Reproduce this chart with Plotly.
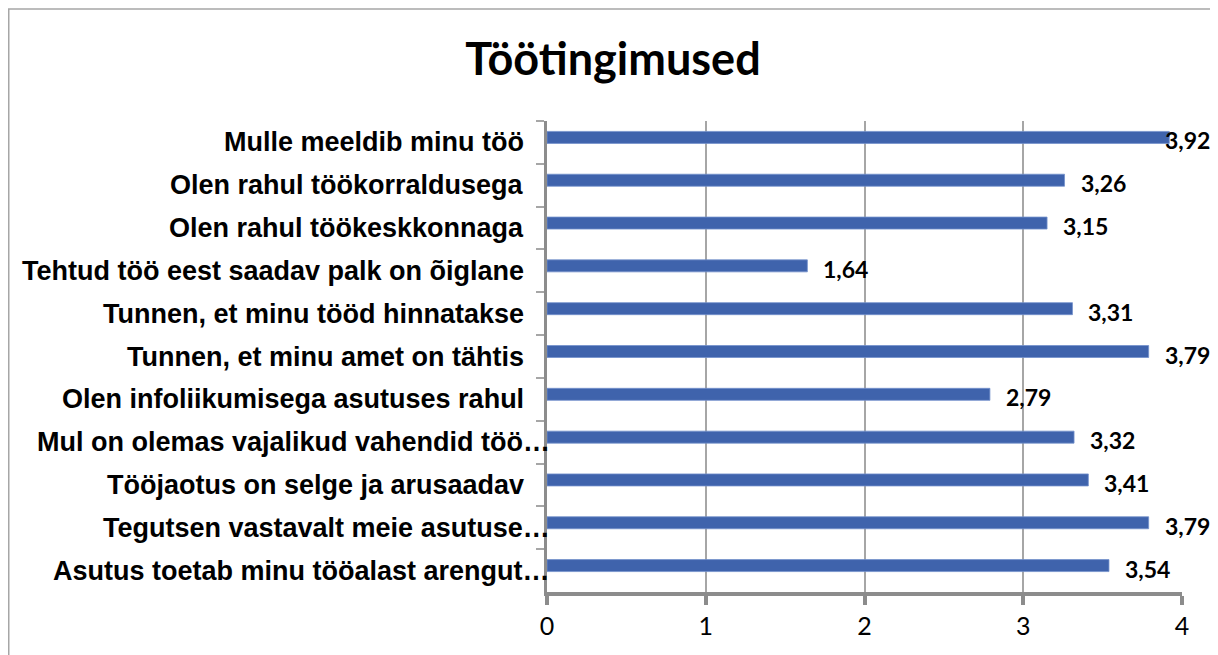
import plotly.graph_objects as go

categories = [
    "Mulle meeldib minu töö",
    "Olen rahul töökorraldusega",
    "Olen rahul töökeskkonnaga",
    "Tehtud töö eest saadav palk on õiglane",
    "Tunnen, et minu tööd hinnatakse",
    "Tunnen, et minu amet on tähtis",
    "Olen infoliikumisega asutuses rahul",
    "Mul on olemas vajalikud vahendid töö…",
    "Tööjaotus on selge ja arusaadav",
    "Tegutsen vastavalt meie asutuse…",
    "Asutus toetab minu tööalast arengut…",
]
values = [3.92, 3.26, 3.15, 1.64, 3.31, 3.79, 2.79, 3.32, 3.41, 3.79, 3.54]
value_labels = [f"{v:.2f}".replace(".", ",") for v in values]
x_ticks = [0, 1, 2, 3, 4]

# page body has an 8px margin; figure coordinates are offset accordingly
W, H = 1210, 647
ML, MT = 539, 113
plot_w = 635
plot_h = 471
MR = W - ML - plot_w
MB = H - MT - plot_h
px_per_unit = plot_w / 4.0
band_px = plot_h / len(categories)

BAR = "#3F63AC"
GRAY = "#8C8C8C"
LIGHT = "#A6A6A6"

bar_w = 12 / band_px
bar_up = 5 / band_px

fig = go.Figure()
fig.add_trace(go.Bar(
    x=values, y=categories, orientation="h",
    marker=dict(color=BAR, line=dict(color="#7391CB", width=0.8)),
    width=bar_w, offset=-bar_w / 2 - bar_up, hoverinfo="skip",
))

# category labels (Excel draws truncated ones flush against the axis)
for c in categories:
    gap = -5 if c.endswith("…") else 21
    fig.add_annotation(x=0, xref="paper", y=c, yref="y", text=c, showarrow=False,
                       xanchor="right", yanchor="middle", xshift=-gap, yshift=0,
                       font=dict(family="Liberation Sans", size=27, color="black",
                                 weight="bold"))

# value labels, kept inside the chart border (Excel-like clamping)
label_w = 46
limit_px = 1201 - ML
for v, t, c in zip(values, value_labels, categories):
    end_px = v * px_per_unit
    shift = 14
    if end_px + shift + label_w > limit_px:
        shift = limit_px - label_w - end_px
    fig.add_annotation(x=v, y=c, text=f"<b>{t}</b>", showarrow=False,
                       xanchor="left", yanchor="middle", xshift=shift, yshift=2,
                       font=dict(family="Lato", size=23, color="black"))

# outer chart border
fig.add_shape(type="rect", xref="paper", yref="paper",
              x0=(0.75 - ML) / plot_w, x1=(1205.5 - ML) / plot_w,
              y0=(H - MB - 700) / plot_h, y1=(H - MB - 1) / plot_h,
              line=dict(color=LIGHT, width=1.5), layer="below")

fig.update_layout(
    width=W, height=H,
    margin=dict(l=ML, r=MR, t=MT, b=MB, pad=0),
    paper_bgcolor="white", plot_bgcolor="white",
    showlegend=False,
    title=dict(text="<b>Töötingimused</b>", x=605 / W, xref="container",
               y=1 - 51 / H, yref="container", xanchor="center", yanchor="middle",
               font=dict(family="Lato", size=45, color="black")),
    xaxis=dict(range=[0, 4], tickvals=x_ticks, ticktext=[str(t) for t in x_ticks],
               showgrid=True, gridcolor=LIGHT, gridwidth=1.5,
               zeroline=False, showline=True, linecolor=GRAY, linewidth=4,
               ticks="outside", ticklen=9, tickwidth=4, tickcolor=GRAY,
               tickfont=dict(family="Lato", size=25, color="black"),
               fixedrange=True),
    yaxis=dict(autorange="reversed", showgrid=False, zeroline=False,
               showline=True, linecolor=GRAY, linewidth=2.5,
               ticks="outside", ticklen=8, tickwidth=1.5, tickcolor=LIGHT,
               tickson="boundaries", showticklabels=False,
               fixedrange=True),
)

fig.write_html("out.html")
